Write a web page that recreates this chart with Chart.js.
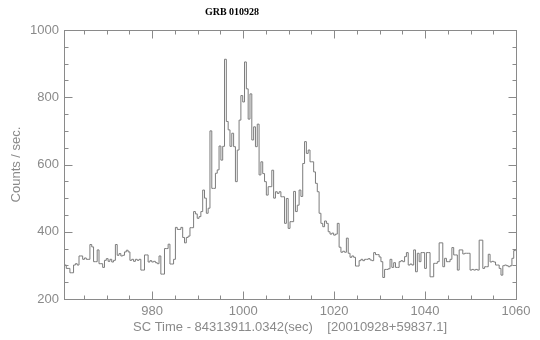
<!DOCTYPE html>
<html>
<head>
<meta charset="utf-8">
<script src="https://cdn.jsdelivr.net/npm/chart.js@4.4.1/dist/chart.umd.min.js"></script>
<style>
html, body { margin: 0; padding: 0; background: #fff; }
</style>
</head>
<body>
<canvas id="myChart" width="540" height="340"></canvas>
<script>
// light curve, 0.4 s bins
var binStart = 960.3;
var binWidth = 0.4;
var counts = [
    340, 340, 301, 291, 291, 278, 278, 301, 305, 301,
    328, 328, 318, 322, 318, 318, 362, 355, 311, 311,
    346, 305, 305, 294, 315, 320, 312, 318, 310, 315,
    362, 330, 335, 328, 330, 340, 345, 340, 315, 318,
    312, 318, 315, 318, 286, 286, 331, 331, 310, 314,
    310, 312, 308, 305, 328, 274, 274, 350, 350, 363,
    304, 304, 318, 413, 407, 407, 413, 383, 367, 383,
    387, 412, 412, 460, 453, 440, 445, 460, 524, 500,
    455, 470, 700, 529, 529, 574, 584, 655, 613, 654,
    913, 728, 703, 654, 693, 653, 549, 643, 732, 805,
    786, 905, 825, 735, 810, 673, 712, 653, 720, 569,
    608, 573, 549, 509, 534, 534, 583, 500, 519, 514,
    519, 504, 504, 425, 499, 410, 430, 430, 520, 460,
    479, 524, 505, 603, 668, 633, 643, 608, 608, 578,
    544, 519, 455, 425, 415, 432, 425, 400, 393, 396,
    390, 393, 425, 354, 339, 342, 339, 381, 336, 324,
    328, 324, 298, 298, 314, 318, 314, 318, 318, 320,
    316, 314, 338, 332, 332, 325, 311, 264, 288, 288,
    290, 318, 294, 308, 294, 294, 311, 314, 311, 326,
    338, 301, 304, 301, 346, 281, 336, 311, 338, 338,
    291, 338, 338, 266, 266, 306, 306, 311, 367, 367,
    296, 321, 311, 311, 318, 353, 331, 331, 286, 346,
    346, 334, 336, 336, 336, 286, 288, 286, 288, 286,
    375, 375, 291, 296, 296, 333, 310, 312, 310, 301,
    301, 291, 271, 299, 301, 299, 296, 299, 321, 344
];
var xTicks = [980, 1000, 1020, 1040, 1060];
var yTicks = [200, 400, 600, 800, 1000];
var xMin = 960.6, xMax = 1060;
var yMin = 200, yMax = 1000;

var points = counts.map(function (c, i) {
    return { x: binStart + i * binWidth, y: c };
});
points.push({ x: binStart + counts.length * binWidth, y: counts[counts.length - 1] });

var gray = '#8a8a8a';
var labelFont = { family: 'Liberation Sans', size: 13 };

// IDL style box with inward ticks on all four sides
var framePlugin = {
    id: 'frame',
    afterDraw: function (chart) {
        var ctx = chart.ctx;
        var a = chart.chartArea;
        var xs = chart.scales.x, ys = chart.scales.y;
        var l = Math.round(a.left) + 0.5, r = Math.round(a.right) + 0.5;
        var t = Math.round(a.top) + 0.5, b = Math.round(a.bottom) + 0.5;
        ctx.save();
        ctx.strokeStyle = gray;
        ctx.lineWidth = 1;
        ctx.strokeRect(l, t, r - l, b - t);
        ctx.beginPath();
        var v, p, len;
        for (v = 965; v <= xMax; v += 5) {
            p = Math.round(xs.getPixelForValue(v)) + 0.5;
            len = (v % 20 === 0) ? 8 : 4;
            ctx.moveTo(p, b); ctx.lineTo(p, b - len);
            ctx.moveTo(p, t); ctx.lineTo(p, t + len);
        }
        for (v = 250; v < yMax; v += 50) {
            p = Math.round(ys.getPixelForValue(v)) + 0.5;
            len = (v % 200 === 0) ? 8 : 4;
            ctx.moveTo(l, p); ctx.lineTo(l + len, p);
            ctx.moveTo(r, p); ctx.lineTo(r - len, p);
        }
        ctx.stroke();

        ctx.fillStyle = '#000';
        ctx.font = 'bold 10px "Liberation Serif"';
        ctx.textAlign = 'center';
        ctx.textBaseline = 'middle';
        ctx.fillText('GRB 010928', 232, 12);
        ctx.restore();
    }
};

var ctx = document.getElementById('myChart').getContext('2d');
var chart = new Chart(ctx, {
    type: 'line',
    data: {
        datasets: [{
            data: points,
            stepped: 'after',
            borderColor: '#7c7c7c',
            borderWidth: 1,
            pointRadius: 0,
            fill: false
        }]
    },
    options: {
        responsive: false,
        animation: false,
        layout: { padding: { top: 30, right: 24, left: 0, bottom: 0 } },
        plugins: {
            legend: { display: false },
            tooltip: { enabled: false }
        },
        scales: {
            x: {
                type: 'linear',
                min: xMin,
                max: xMax,
                grid: { display: false, drawTicks: false },
                border: { display: false },
                afterBuildTicks: function (s) {
                    s.ticks = xTicks.map(function (v) { return { value: v }; });
                },
                afterFit: function (s) { s.height = 41; },
                ticks: {
                    padding: 5,
                    color: gray,
                    font: labelFont,
                    autoSkip: false,
                    maxRotation: 0,
                    callback: function (v) { return String(v); }
                },
                title: {
                    display: true,
                    text: 'SC Time - 84313911.0342(sec)    [20010928+59837.1]',
                    color: gray,
                    font: labelFont,
                    padding: { top: 0, bottom: 5 }
                }
            },
            y: {
                min: yMin,
                max: yMax,
                grid: { display: false, drawTicks: false },
                border: { display: false },
                afterBuildTicks: function (s) {
                    s.ticks = yTicks.map(function (v) { return { value: v }; });
                },
                afterFit: function (s) { s.width = 64; },
                ticks: {
                    padding: 5,
                    color: gray,
                    font: labelFont,
                    callback: function (v) { return String(v); }
                },
                title: {
                    display: true,
                    text: 'Counts / sec.',
                    color: gray,
                    font: labelFont,
                    padding: { top: 9, bottom: 0 }
                }
            }
        }
    },
    plugins: [framePlugin]
});
</script>
</body>
</html>
